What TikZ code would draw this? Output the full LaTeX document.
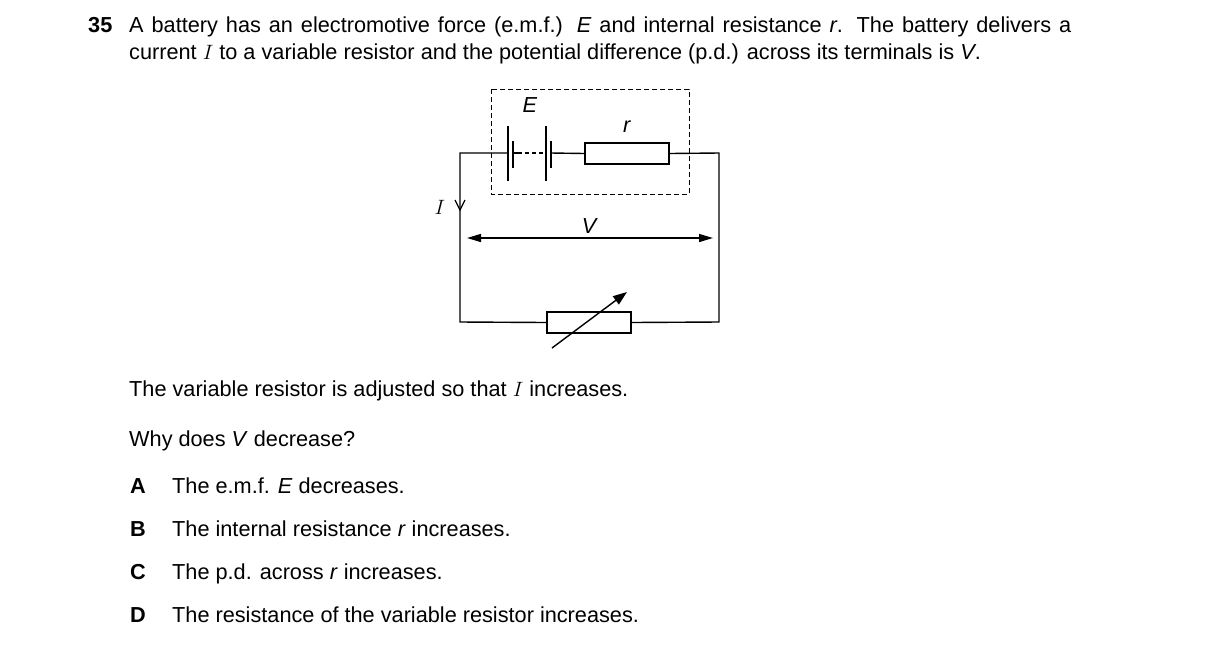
\documentclass[tikz,border=0pt]{standalone}
\usepackage{fontspec}
\setmainfont{Liberation Sans}
\usetikzlibrary{positioning,arrows.meta}
\begin{document}
\begin{tikzpicture}[x=1pt,y=-1pt,font=\fontsize{21.7}{26}\selectfont]
  \tikzset{txt/.style={anchor=base west, inner sep=0pt}}
  \tikzset{wire/.style={draw, line width=1.4pt}}
  \tikzset{res/.style={draw, line width=1.4pt, fill=white, minimum width=84pt, minimum height=21pt, inner sep=0pt}}
  \tikzset{plate/.style={line width=1.6pt}}
  \useasboundingbox (0,0) rectangle (1216,649);
  % question text
  \node [txt, font=\fontsize{21.7}{26}\selectfont\bfseries] (num) at (88,32) {35};
  \node [txt] (l1) at (129,32) {\hbox to 942pt{A battery has an electromotive force (e.m.f.) \textit{E} and internal resistance \textit{r}. The battery delivers a}};
  \node [txt] (l2) at (129,59) {current $I$ to a variable resistor and the potential difference (p.d.) across its terminals is \textit{V}.};
  % circuit
  \coordinate (tl) at (460,153);
  \coordinate (tr) at (719,153);
  \coordinate (bl) at (460,322);
  \coordinate (br) at (719,322);
  \node [res] (rint) at (627,153.5) {};
  \node [res] (rvar) at (589,322.5) {};
  \draw [wire] (rint.east) -- (tr) -- (br) -- (rvar.east);
  \draw [wire] (rvar.west) -- (bl) -- (tl) -- (508,153);
  \draw [wire] (513,153) -- (518,153);
  \draw [wire, dashed, dash pattern=on 4pt off 3pt] (518,153) -- (546,153);
  \draw [wire] (551,153) -- (rint.west);
  \draw [plate] (508,126) -- (508,181);
  \draw [plate] (513,141) -- (513,168);
  \draw [plate] (546,126) -- (546,181);
  \draw [plate] (551,141) -- (551,168);
  \draw [line width=0.8pt, dashed, dash pattern=on 5pt off 3pt] (491,89) rectangle (689,194);
  \node (lE) at (530,105) {\textit{E}};
  \node (lr) at (627,127) {\textit{r}};
  % variable resistor arrow
  \draw [line width=1.4pt, -{Triangle[length=14pt,width=10pt]}] (552,348) -- (627,292);
  % p.d. arrow
  \coordinate (va) at (467,238);
  \coordinate (vb) at (713,238);
  \draw [line width=1.4pt, {Triangle[length=14pt,width=8pt]}-{Triangle[length=14pt,width=8pt]}] (va) -- (vb);
  \node (lV) at (590,226) {\textit{V}};
  % current
  \draw [line width=1.3pt] (455,200) -- (460,210) -- (465,200);
  \node (lI) at (440,207) {$I$};
  % answers
  \node [txt] (q1) at (129,396) {The variable resistor is adjusted so that $I$ increases.};
  \node [txt] (q2) at (129,446) {Why does \textit{V} decrease?};
  \foreach \y/\k/\t in {493/A/The e.m.f. \textit{E} decreases.,
                        536/B/The internal resistance \textit{r} increases.,
                        579/C/The p.d. across \textit{r} increases.,
                        622/D/The resistance of the variable resistor increases.}{
    \node [txt, font=\fontsize{21.7}{26}\selectfont\bfseries] (k\k) at (130,\y) {\k};
    \node [txt] (t\k) at (172,\y) {\t};
  }
\end{tikzpicture}
\end{document}
